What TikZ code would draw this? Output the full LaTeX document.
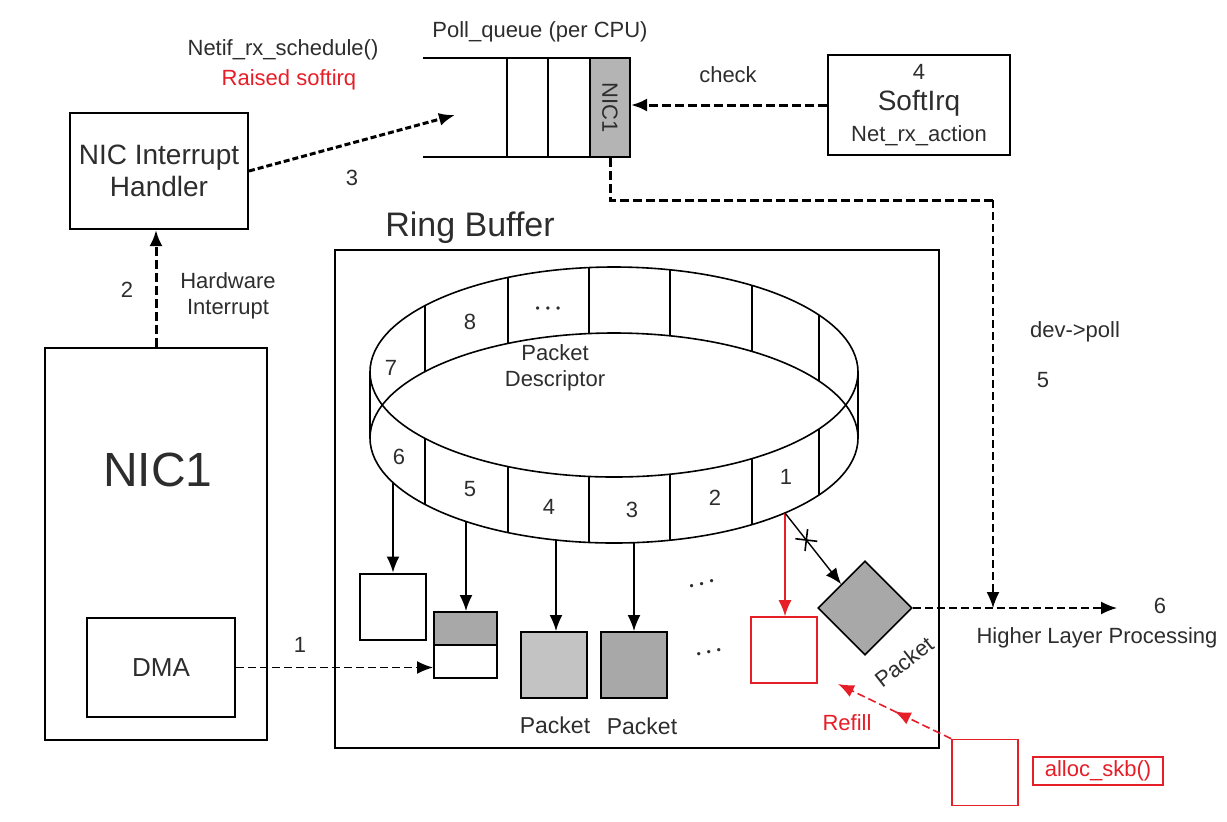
\documentclass[tikz,border=0pt]{standalone}
\usepackage{fontspec}
\setmainfont{Liberation Sans}
\usetikzlibrary{arrows.meta,positioning,calc,shapes.geometric,shapes.misc,decorations.markings}
\definecolor{refred}{RGB}{230,30,40}
\definecolor{txtgray}{RGB}{45,45,45}
\definecolor{cellgray}{RGB}{180,180,180}
\definecolor{pktgray}{RGB}{168,168,168}
\definecolor{lightpkt}{RGB}{195,195,195}
\tikzset{
  blk/.style={draw,line width=1pt,rectangle,inner sep=0pt,align=center,text=txtgray},
  pktblk/.style={blk,minimum width=33pt,minimum height=33pt},
  redblk/.style={pktblk,draw=refred,line width=0.8pt},
  lbl/.style={font=\fontsize{11}{13}\selectfont,text=txtgray,align=center,inner sep=0pt},
  redlbl/.style={lbl,text=refred},
  dotlbl/.style={font=\fontsize{6}{6}\selectfont,text=txtgray,inner sep=0pt},
  qline/.style={line width=1pt},
  ringln/.style={line width=0.8pt},
  arr/.style={-{Latex[length=8pt,width=6.5pt]},line width=0.8pt},
  darr/.style={arr,dash pattern=on 4pt off 2pt},
  tdarr/.style={arr,line width=1.5pt,dash pattern=on 4.5pt off 2pt},
  tdline/.style={line width=1.5pt,dash pattern=on 4.5pt off 2pt},
  refill/.style={darr,color=refred,
    decoration={markings,mark=at position 0.5 with {\arrow{Latex[length=8pt,width=6.5pt]}}},
    postaction={decorate}}
}

\begin{document}
\begin{tikzpicture}[x=0.5pt,y=-0.5pt]
  \useasboundingbox (0,0) rectangle (1227,821);

  % interrupt handler and poll queue
  \node[blk,minimum width=89pt,minimum height=58pt,font=\fontsize{14}{16}\selectfont] (handler) at (159,171) {NIC Interrupt\\Handler};
  \node[lbl] (netif) at (283,50) {Netif\_rx\_schedule()};
  \node[redlbl] (raised) at (289,80) {Raised softirq};
  \node[lbl] (three) at (352,178) {3};
  \node[lbl] (pollq) at (540,32) {Poll\_queue (per CPU)};
  \draw[qline] (423,58) -- (630,58) (423,157) -- (630,157) (507,58) -- (507,157) (548,58) -- (548,157);
  \node[blk,fill=cellgray,minimum width=20pt,minimum height=49.5pt,label={[lbl,rotate=-90]center:NIC1}] (cell) at (610,107.5) {};
  \coordinate (qtip) at (455,115);

  % softirq
  \node[blk,minimum width=91pt,minimum height=50pt,font=\fontsize{11}{15.5}\selectfont] (soft) at (919,105) {4\\{\fontsize{14}{15.5}\selectfont SoftIrq}\\Net\_rx\_action};
  \node[lbl] (check) at (728,75) {check};

  % NIC
  \node[blk,minimum width=111pt,minimum height=196pt] (nic) at (156,544) {};
  \node[font=\fontsize{24}{26}\selectfont,text=txtgray] (niclbl) at (158,470) {NIC1};
  \node[blk,minimum width=74pt,minimum height=49.5pt,font=\fontsize{13}{15}\selectfont] (dma) at (161,667.5) {DMA};
  \node[lbl] (two) at (127,290) {2};
  \node[lbl] (hwint) at (228,296) {Hardware\\Interrupt};
  \node[lbl] (one) at (300,645) {1};

  % ring buffer
  \node[font=\fontsize{17}{19}\selectfont,text=txtgray] (ringlbl) at (470,228) {Ring Buffer};
  \node[blk,minimum width=302pt,minimum height=249pt] (ringbox) at (637,499) {};
  \draw[ringln] (614,372) ellipse [x radius=244, y radius=105];
  \draw[ringln] (614,438) ellipse [x radius=244, y radius=105];
  \draw[ringln] (370,372) -- (370,438) (858,372) -- (858,438);
  \foreach \xx in {425,508,589,670,752,819}{
    \pgfmathsetmacro\hh{105*sqrt(1-((\xx-614)/244)^2)}
    \draw[ringln] (\xx,372-\hh) -- (\xx,438-\hh);
    \draw[ringln] (\xx,372+\hh) -- (\xx,438+\hh);
  }
  \node[lbl] (d7) at (391,368) {7};
  \node[lbl] (d8) at (470,322) {8};
  \node[dotlbl] (dback) at (548,310) {\textbullet\hspace{3pt}\textbullet\hspace{3pt}\textbullet};
  \node[lbl] (desc) at (555,368) {Packet\\Descriptor};
  \node[lbl] (d6) at (399,457) {6};
  \node[lbl] (d5) at (470,489) {5};
  \node[lbl] (d4) at (549,507) {4};
  \node[lbl] (d3) at (632,510) {3};
  \node[lbl] (d2) at (715,498) {2};
  \node[lbl] (d1) at (786,477) {1};
  \coordinate (s6) at (393,482.5);
  \coordinate (s5) at (466,521.5);
  \coordinate (s4) at (556,540);
  \coordinate (s3) at (634,542.7);
  \coordinate (s1) at (785,513);

  % buffers
  \node[pktblk] (e6) at (393,606.5) {};
  \node[blk,fill=pktgray,minimum width=31.5pt,minimum height=16.5pt] (sptop) at (465.5,628.5) {};
  \node[blk,minimum width=31.5pt,minimum height=16.5pt] (spbot) at (465.5,661.5) {};
  \node[pktblk,fill=lightpkt] (pkt4) at (554,665) {};
  \node[pktblk,fill=pktgray] (pkt3) at (634,665) {};
  \node[lbl,font=\fontsize{11.5}{13}\selectfont] (pkt4lbl) at (555,725) {Packet};
  \node[lbl,font=\fontsize{11.5}{13}\selectfont] (pkt3lbl) at (642,726) {Packet};
  \node[dotlbl,rotate=14] (dup) at (702,585) {\textbullet\hspace{3pt}\textbullet\hspace{3pt}\textbullet};
  \node[dotlbl,rotate=12] (dlow) at (709,653) {\textbullet\hspace{3pt}\textbullet\hspace{3pt}\textbullet};
  \node[redblk] (red) at (784,650) {};
  \node[diamond,draw,line width=0.8pt,fill=pktgray,aspect=1,inner sep=0pt,minimum width=47pt,minimum height=47pt] (dia) at (865,608) {};
  \node[lbl,rotate=38] (dialbl) at (904,662) {Packet};

  % right side
  \node[lbl] (devpoll) at (1075,332) {dev->poll};
  \node[lbl] (five) at (1043,380) {5};
  \node[lbl] (six) at (1160,606) {6};
  \node[lbl] (hlp) at (1097,638) {Higher Layer Processing};
  \coordinate (turn) at (993,200);
  \coordinate (hl) at (993,608);
  \coordinate (hlend) at (1117,608);
  \node[redblk] (alloc) at (985,772.5) {};
  \node[blk,draw=refred,line width=0.8pt,minimum width=65pt,minimum height=14pt,font=\fontsize{11}{13}\selectfont,text=refred] (skb) at (1098,771) {alloc\_skb()};
  \node[redlbl] (refilllbl) at (847,723) {Refill};
  \coordinate (rf) at (838,684);

  % connectors
  \draw[tdarr,dash pattern=on 3pt off 1.5pt] (handler.east) -- (qtip);
  \draw[tdarr] (soft.west) -- (soft.west -| cell.east);
  \draw[tdline] (cell.south) |- (turn);
  \draw[darr] (turn) -- (hl);
  \draw[tdarr] (nic.north) -- (nic.north |- handler.south);
  \draw[darr] (dma.east) -- (dma.east -| spbot.west);
  \draw[arr] (s6) -- (e6.north);
  \draw[arr] (s5) -- (s5 |- sptop.north);
  \draw[arr] (s4) -- (s4 |- pkt4.north);
  \draw[arr] (s3) -- (s3 |- pkt3.north);
  \draw[arr,refred] (s1) -- (s1 |- red.north);
  \draw[arr,line width=0.7pt] (s1) -- (dia.north west) node[pos=0.38,sloped,cross out,draw,line width=0.8pt,inner sep=0pt,minimum size=7pt]{};
  \draw[darr] (dia.east) -- (hlend);
  \draw[refill] (alloc.north west) -- (rf);
\end{tikzpicture}
\end{document}
